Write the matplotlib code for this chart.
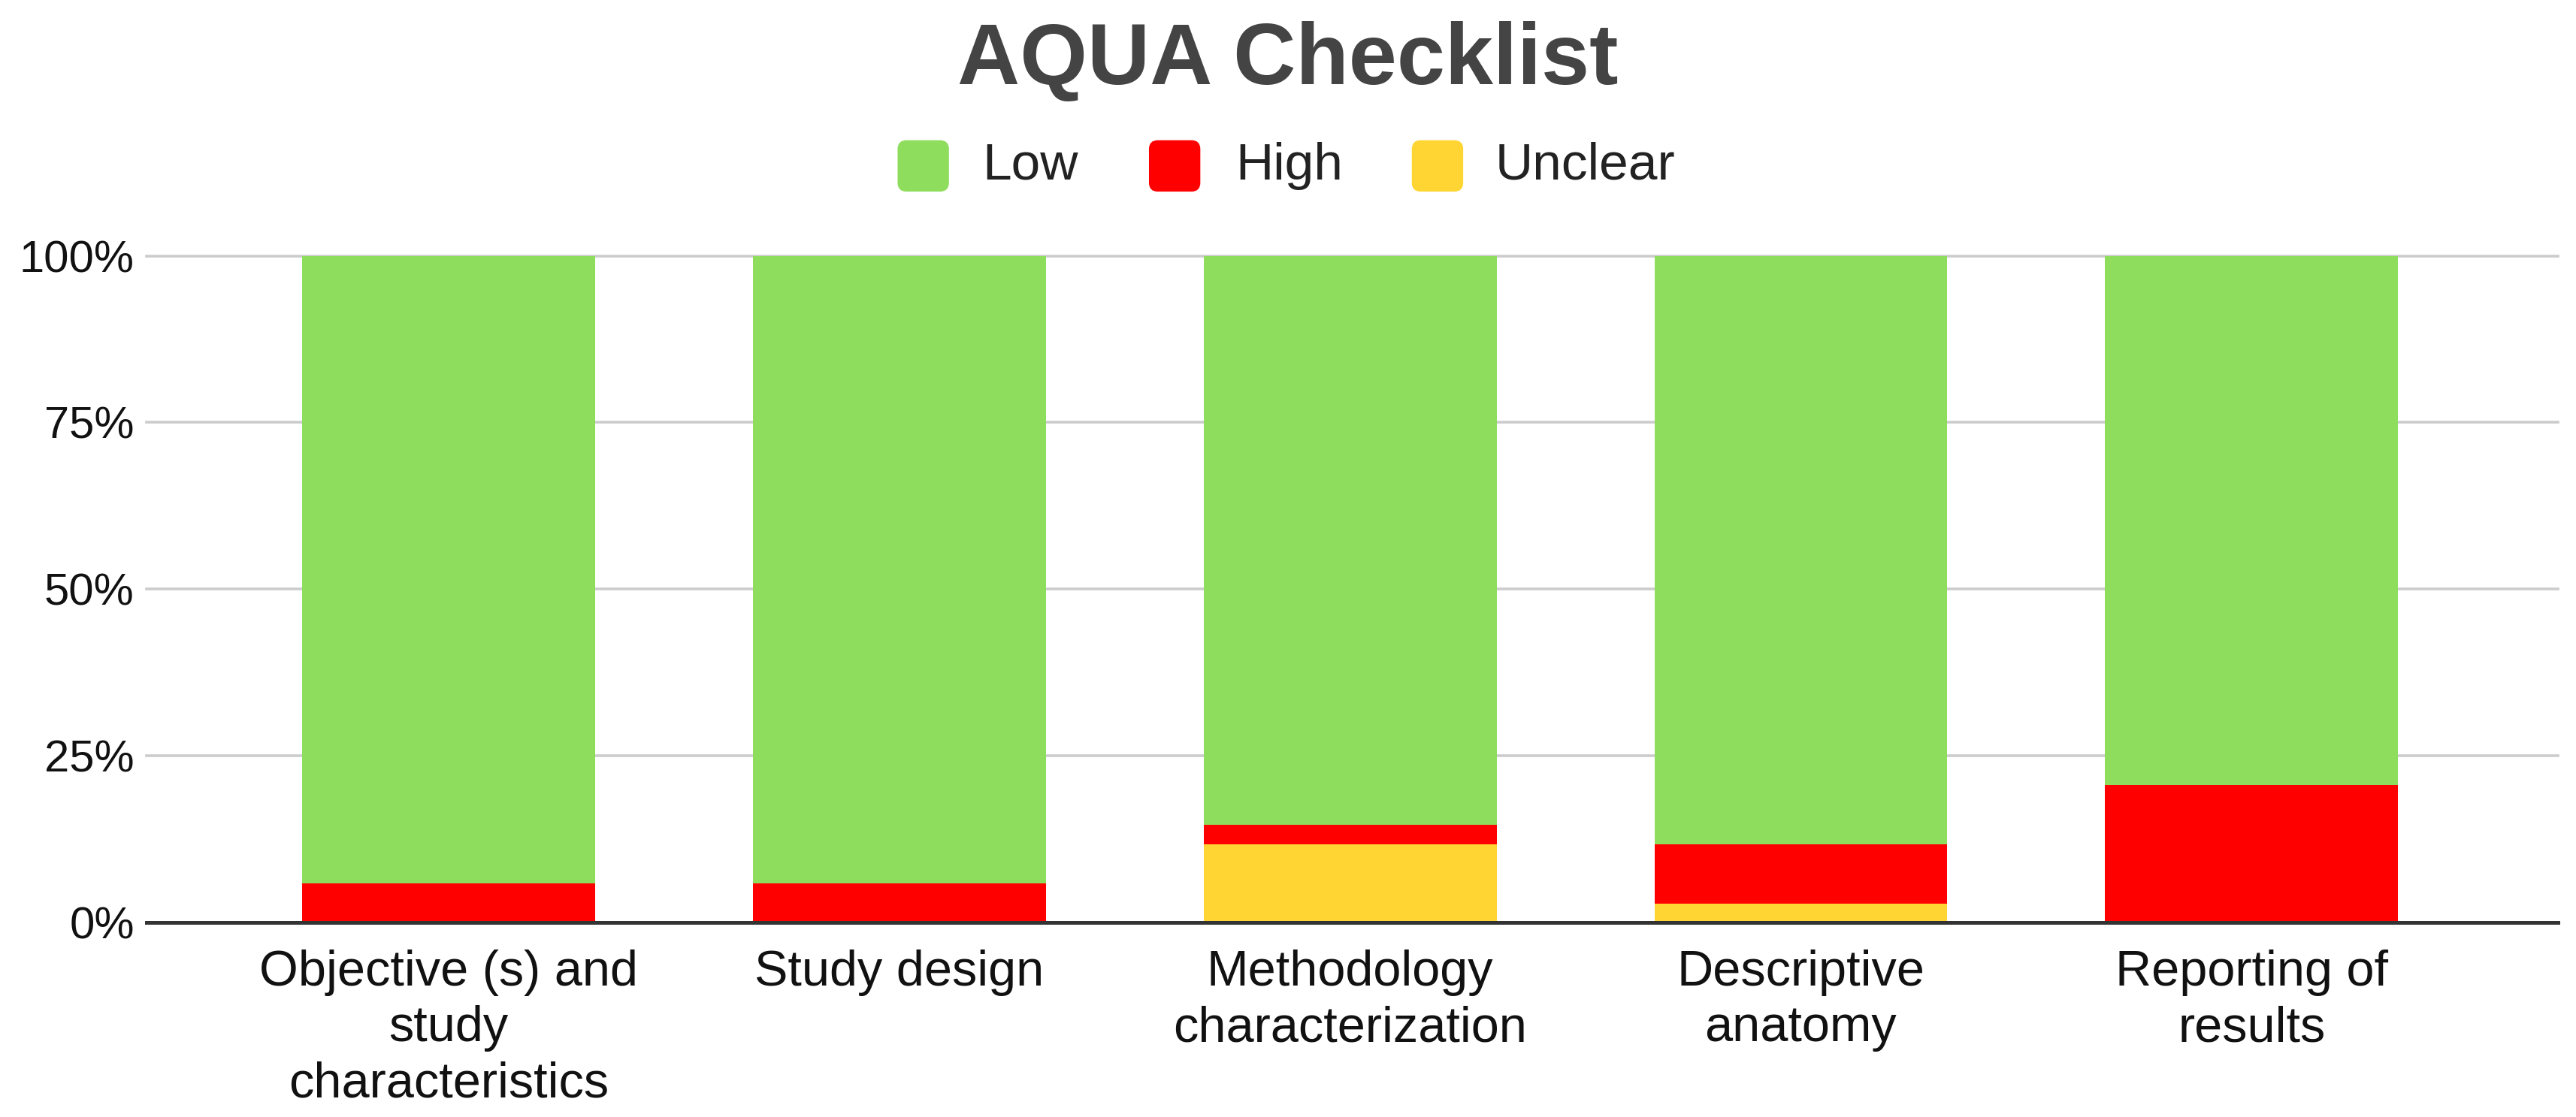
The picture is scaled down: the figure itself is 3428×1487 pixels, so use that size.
import matplotlib
matplotlib.use('Agg')
import matplotlib.pyplot as plt
from matplotlib.patches import FancyBboxPatch
import numpy as np

plt.rcParams['font.family'] = ['Liberation Sans', 'DejaVu Sans']

categories = ["Objective (s) and\nstudy\ncharacteristics", "Study design",
              "Methodology\ncharacterization", "Descriptive\nanatomy",
              "Reporting of\nresults"]
# percent of studies (34 in total)
unclear = [0.0, 0.0, 11.8, 2.9, 0.0]
high = [5.9, 5.9, 2.9, 8.8, 20.6]
low = [94.1, 94.1, 85.3, 88.2, 79.4]
series_names = ["Low", "High", "Unclear"]
yticks = [0, 25, 50, 75, 100]
ytick_labels = ["0%", "25%", "50%", "75%", "100%"]

GREEN = '#8fdd5d'
RED = '#ff0000'
YELLOW = '#ffd533'

fig = plt.figure(figsize=(17.14, 7.435), dpi=200)
ax = fig.add_axes([0.057, 0.174, 0.936, 0.597])

x = np.arange(len(categories))
w = 0.65
unclear = np.array(unclear)
high = np.array(high)
low = np.array(low)
ax.bar(x, unclear, w, color=YELLOW, zorder=2)
ax.bar(x, high, w, bottom=unclear, color=RED, zorder=2)
ax.bar(x, low, w, bottom=unclear + high, color=GREEN, zorder=2)

ax.set_xlim(-0.67, 4.68)
ax.set_ylim(0, 100)
ax.set_yticks(yticks)
ax.set_yticklabels(ytick_labels)
ax.set_xticks(x)
ax.set_xticklabels(categories, linespacing=1.25, va='top')
ax.tick_params(axis='x', length=0, pad=13, labelsize=24, labelcolor='#111')
ax.tick_params(axis='y', length=0, pad=6, labelsize=21.5, labelcolor='#111')

ax.grid(axis='y', color='#cccccc', lw=1.3, zorder=0)
for gl in ax.yaxis.get_gridlines():
    gl.set_clip_on(False)
ax.grid(axis='x', visible=False)
for s in ['top', 'right', 'left']:
    ax.spines[s].set_visible(False)
ax.spines['bottom'].set_color('#333333')
ax.spines['bottom'].set_linewidth(1.8)
ax.spines['bottom'].set_zorder(3)

fig.text(0.5, 0.945, "AQUA Checklist", ha='center', va='center',
         fontsize=41.5, fontweight='bold', color='#444444')

# legend row
colors = [GREEN, RED, YELLOW]
marker_x = [547, 700, 860]
text_x = [598, 752, 910]
ly = 1 - 101 / 680
fw, fh = fig.get_size_inches()
sq_w = 30 / 1568
sq_h = sq_w * fw / fh
for name, c, mx, tx in zip(series_names, colors, marker_x, text_x):
    p = FancyBboxPatch((mx / 1568, ly - sq_h / 2), sq_w, sq_h,
                       boxstyle="round,pad=0,rounding_size=0.003",
                       transform=fig.transFigure, color=c, mutation_aspect=fw / fh)
    fig.patches.append(p)
    fig.text(tx / 1568, ly, name, ha='left', va='center', fontsize=25, color='#222222')

fig.savefig('out.png', dpi=200)
